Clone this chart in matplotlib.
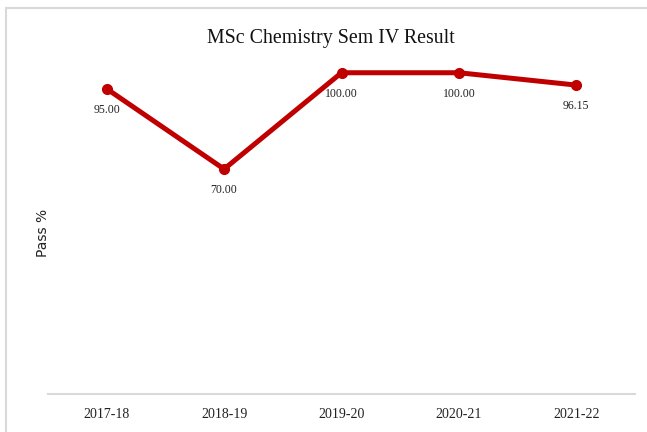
import matplotlib.pyplot as plt
from matplotlib.patches import Rectangle

# Resultados por año académico
years = ['2017-18', '2018-19', '2019-20', '2020-21', '2021-22']
pass_pct = [95.00, 70.00, 100.00, 100.00, 96.15]

fig = plt.figure(figsize=(6.47, 4.32), dpi=100)

# marco gris del gráfico
fig.patches.append(Rectangle((6 / 647, -0.05), 1.1, 1 - 8 / 432 + 0.05,
                             transform=fig.transFigure, fill=False,
                             edgecolor='#d9d9d9', linewidth=1.5))

ax = fig.add_axes([48 / 647, 0.088, 587 / 647, 0.818])
x = range(len(years))
ax.plot(x, pass_pct, color='#c00000', linewidth=3.6, marker='o',
        markersize=7, solid_capstyle='round')

for xi, v in zip(x, pass_pct):
    ax.annotate(f'{v:.2f}', (xi, v), xytext=(0, -15), textcoords='offset points',
                ha='center', va='center', fontsize=8.5, family='Liberation Serif',
                color='#222222')

ax.set_xlim(-0.5, 4.5)
ax.set_ylim(0, 110)
ax.set_xticks(list(x))
ax.set_xticklabels(years, family='Liberation Serif', fontsize=10, color='#222222')
ax.tick_params(axis='x', length=0, pad=10)
ax.set_yticks([])
for s in ['top', 'right', 'left']:
    ax.spines[s].set_visible(False)
ax.spines['bottom'].set_color('#d9d9d9')
ax.spines['bottom'].set_linewidth(1.5)

ax.set_ylabel('Pass %', fontsize=10, color='#222222')
ax.yaxis.set_label_coords(0.003, 0.456)
fig.text(331 / 647, 1 - 38 / 432, 'MSc Chemistry Sem IV Result', ha='center',
         va='center', fontsize=14.3, family='Liberation Serif', color='#111111')

fig.savefig('out.png', dpi=100)
